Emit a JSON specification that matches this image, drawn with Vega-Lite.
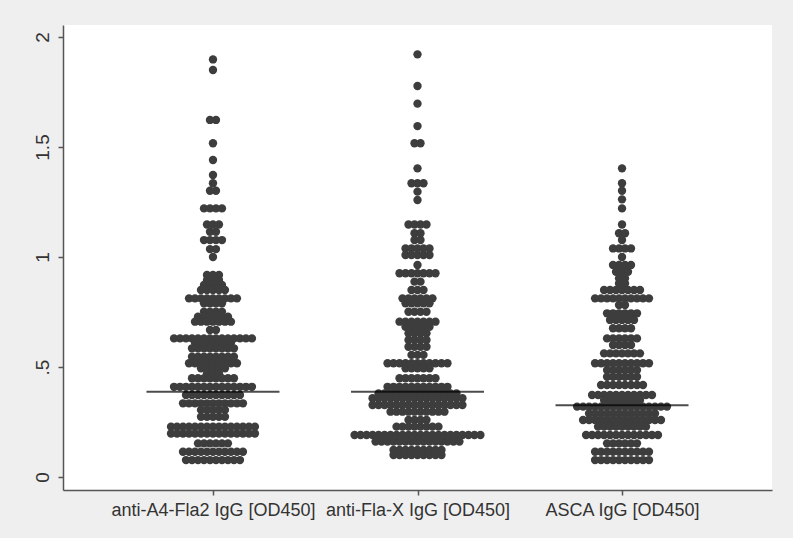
{
"$schema": "https://vega.github.io/schema/vega-lite/v6.json",
"width": 709, "height": 465,
"autosize": {"type": "none"},
"padding": {"left": 63, "top": 25, "right": 21, "bottom": 48},
"background": "#EFEFEF",
"config": {
  "view": {"fill": "white", "stroke": null},
  "font": "Liberation Sans",
  "axis": {"grid": false, "domainColor": "#555555", "domainWidth": 1.5, "tickColor": "#555555", "tickWidth": 1.5, "labelColor": "#333333", "labelFont": "Liberation Sans", "labelFontSize": 18, "labelLimit": 500, "labelOverlap": false, "tickSize": 5, "title": null}
},
"datasets": {
"means": [{"g": 1, "m": 0.388}, {"g": 2, "m": 0.388}, {"g": 3, "m": 0.326}],
"dots": [
{"g":1,"v":1.898},
{"g":1,"v":1.85},
{"g":1,"v":1.623},{"g":1,"v":1.623},
{"g":1,"v":1.517},
{"g":1,"v":1.441},
{"g":1,"v":1.373},
{"g":1,"v":1.335},
{"g":1,"v":1.301},{"g":1,"v":1.301},
{"g":1,"v":1.221},{"g":1,"v":1.221},{"g":1,"v":1.221},{"g":1,"v":1.221},
{"g":1,"v":1.148},{"g":1,"v":1.148},{"g":1,"v":1.148},
{"g":1,"v":1.115},{"g":1,"v":1.115},
{"g":1,"v":1.077},{"g":1,"v":1.077},{"g":1,"v":1.077},{"g":1,"v":1.077},
{"g":1,"v":1.036},{"g":1,"v":1.036},
{"g":1,"v":1.0},
{"g":1,"v":0.918},{"g":1,"v":0.918},{"g":1,"v":0.918},
{"g":1,"v":0.895},{"g":1,"v":0.895},{"g":1,"v":0.895},
{"g":1,"v":0.873},{"g":1,"v":0.873},{"g":1,"v":0.873},{"g":1,"v":0.873},
{"g":1,"v":0.85},{"g":1,"v":0.85},{"g":1,"v":0.85},{"g":1,"v":0.85},{"g":1,"v":0.85},
{"g":1,"v":0.812},{"g":1,"v":0.812},{"g":1,"v":0.812},{"g":1,"v":0.812},{"g":1,"v":0.812},{"g":1,"v":0.812},{"g":1,"v":0.812},{"g":1,"v":0.812},{"g":1,"v":0.812},
{"g":1,"v":0.79},{"g":1,"v":0.79},{"g":1,"v":0.79},{"g":1,"v":0.79},
{"g":1,"v":0.751},{"g":1,"v":0.751},{"g":1,"v":0.751},{"g":1,"v":0.751},
{"g":1,"v":0.729},{"g":1,"v":0.729},{"g":1,"v":0.729},{"g":1,"v":0.729},{"g":1,"v":0.729},{"g":1,"v":0.729},
{"g":1,"v":0.706},{"g":1,"v":0.706},{"g":1,"v":0.706},{"g":1,"v":0.706},{"g":1,"v":0.706},{"g":1,"v":0.706},{"g":1,"v":0.706},
{"g":1,"v":0.668},{"g":1,"v":0.668},
{"g":1,"v":0.63},{"g":1,"v":0.63},{"g":1,"v":0.63},{"g":1,"v":0.63},{"g":1,"v":0.63},{"g":1,"v":0.63},{"g":1,"v":0.63},{"g":1,"v":0.63},{"g":1,"v":0.63},{"g":1,"v":0.63},{"g":1,"v":0.63},{"g":1,"v":0.63},{"g":1,"v":0.63},{"g":1,"v":0.63},
{"g":1,"v":0.61},{"g":1,"v":0.61},{"g":1,"v":0.61},{"g":1,"v":0.61},{"g":1,"v":0.61},{"g":1,"v":0.61},{"g":1,"v":0.61},
{"g":1,"v":0.585},{"g":1,"v":0.585},{"g":1,"v":0.585},{"g":1,"v":0.585},{"g":1,"v":0.585},{"g":1,"v":0.585},{"g":1,"v":0.585},{"g":1,"v":0.585},
{"g":1,"v":0.547},{"g":1,"v":0.547},{"g":1,"v":0.547},{"g":1,"v":0.547},{"g":1,"v":0.547},{"g":1,"v":0.547},{"g":1,"v":0.547},{"g":1,"v":0.547},
{"g":1,"v":0.517},{"g":1,"v":0.517},{"g":1,"v":0.517},{"g":1,"v":0.517},{"g":1,"v":0.517},{"g":1,"v":0.517},{"g":1,"v":0.517},{"g":1,"v":0.517},{"g":1,"v":0.517},
{"g":1,"v":0.494},{"g":1,"v":0.494},{"g":1,"v":0.494},{"g":1,"v":0.494},{"g":1,"v":0.494},
{"g":1,"v":0.471},{"g":1,"v":0.471},{"g":1,"v":0.471},
{"g":1,"v":0.449},{"g":1,"v":0.449},{"g":1,"v":0.449},{"g":1,"v":0.449},{"g":1,"v":0.449},{"g":1,"v":0.449},{"g":1,"v":0.449},{"g":1,"v":0.449},
{"g":1,"v":0.41},{"g":1,"v":0.41},{"g":1,"v":0.41},{"g":1,"v":0.41},{"g":1,"v":0.41},{"g":1,"v":0.41},{"g":1,"v":0.41},{"g":1,"v":0.41},{"g":1,"v":0.41},{"g":1,"v":0.41},{"g":1,"v":0.41},{"g":1,"v":0.41},{"g":1,"v":0.41},{"g":1,"v":0.41},
{"g":1,"v":0.373},{"g":1,"v":0.373},{"g":1,"v":0.373},{"g":1,"v":0.373},{"g":1,"v":0.373},{"g":1,"v":0.373},{"g":1,"v":0.373},{"g":1,"v":0.373},{"g":1,"v":0.373},{"g":1,"v":0.373},
{"g":1,"v":0.335},{"g":1,"v":0.335},{"g":1,"v":0.335},{"g":1,"v":0.335},{"g":1,"v":0.335},{"g":1,"v":0.335},{"g":1,"v":0.335},{"g":1,"v":0.335},{"g":1,"v":0.335},{"g":1,"v":0.335},{"g":1,"v":0.335},
{"g":1,"v":0.305},{"g":1,"v":0.305},{"g":1,"v":0.305},{"g":1,"v":0.305},{"g":1,"v":0.305},
{"g":1,"v":0.274},{"g":1,"v":0.274},{"g":1,"v":0.274},{"g":1,"v":0.274},{"g":1,"v":0.274},
{"g":1,"v":0.229},{"g":1,"v":0.229},{"g":1,"v":0.229},{"g":1,"v":0.229},{"g":1,"v":0.229},{"g":1,"v":0.229},{"g":1,"v":0.229},{"g":1,"v":0.229},{"g":1,"v":0.229},{"g":1,"v":0.229},{"g":1,"v":0.229},{"g":1,"v":0.229},{"g":1,"v":0.229},{"g":1,"v":0.229},{"g":1,"v":0.229},
{"g":1,"v":0.198},{"g":1,"v":0.198},{"g":1,"v":0.198},{"g":1,"v":0.198},{"g":1,"v":0.198},{"g":1,"v":0.198},{"g":1,"v":0.198},{"g":1,"v":0.198},{"g":1,"v":0.198},{"g":1,"v":0.198},{"g":1,"v":0.198},{"g":1,"v":0.198},{"g":1,"v":0.198},{"g":1,"v":0.198},{"g":1,"v":0.198},
{"g":1,"v":0.153},{"g":1,"v":0.153},{"g":1,"v":0.153},{"g":1,"v":0.153},{"g":1,"v":0.153},{"g":1,"v":0.153},
{"g":1,"v":0.115},{"g":1,"v":0.115},{"g":1,"v":0.115},{"g":1,"v":0.115},{"g":1,"v":0.115},{"g":1,"v":0.115},{"g":1,"v":0.115},{"g":1,"v":0.115},{"g":1,"v":0.115},{"g":1,"v":0.115},{"g":1,"v":0.115},
{"g":1,"v":0.077},{"g":1,"v":0.077},{"g":1,"v":0.077},{"g":1,"v":0.077},{"g":1,"v":0.077},{"g":1,"v":0.077},{"g":1,"v":0.077},{"g":1,"v":0.077},{"g":1,"v":0.077},{"g":1,"v":0.077},
{"g":2,"v":1.921},
{"g":2,"v":1.777},
{"g":2,"v":1.697},
{"g":2,"v":1.595},
{"g":2,"v":1.517},{"g":2,"v":1.517},
{"g":2,"v":1.403},
{"g":2,"v":1.335},{"g":2,"v":1.335},{"g":2,"v":1.335},
{"g":2,"v":1.297},
{"g":2,"v":1.259},
{"g":2,"v":1.148},{"g":2,"v":1.148},{"g":2,"v":1.148},{"g":2,"v":1.148},
{"g":2,"v":1.108},{"g":2,"v":1.108},
{"g":2,"v":1.077},{"g":2,"v":1.077},
{"g":2,"v":1.039},{"g":2,"v":1.039},{"g":2,"v":1.039},{"g":2,"v":1.039},{"g":2,"v":1.039},
{"g":2,"v":1.009},{"g":2,"v":1.009},{"g":2,"v":1.009},{"g":2,"v":1.009},{"g":2,"v":1.009},
{"g":2,"v":0.964},
{"g":2,"v":0.926},{"g":2,"v":0.926},{"g":2,"v":0.926},{"g":2,"v":0.926},{"g":2,"v":0.926},{"g":2,"v":0.926},{"g":2,"v":0.926},
{"g":2,"v":0.888},{"g":2,"v":0.888},
{"g":2,"v":0.85},{"g":2,"v":0.85},{"g":2,"v":0.85},
{"g":2,"v":0.812},{"g":2,"v":0.812},{"g":2,"v":0.812},{"g":2,"v":0.812},{"g":2,"v":0.812},{"g":2,"v":0.812},
{"g":2,"v":0.79},{"g":2,"v":0.79},{"g":2,"v":0.79},{"g":2,"v":0.79},{"g":2,"v":0.79},
{"g":2,"v":0.751},{"g":2,"v":0.751},{"g":2,"v":0.751},{"g":2,"v":0.751},
{"g":2,"v":0.706},{"g":2,"v":0.706},{"g":2,"v":0.706},{"g":2,"v":0.706},{"g":2,"v":0.706},{"g":2,"v":0.706},{"g":2,"v":0.706},
{"g":2,"v":0.683},{"g":2,"v":0.683},{"g":2,"v":0.683},{"g":2,"v":0.683},{"g":2,"v":0.683},
{"g":2,"v":0.653},{"g":2,"v":0.653},{"g":2,"v":0.653},{"g":2,"v":0.653},
{"g":2,"v":0.623},{"g":2,"v":0.623},{"g":2,"v":0.623},{"g":2,"v":0.623},
{"g":2,"v":0.592},{"g":2,"v":0.592},{"g":2,"v":0.592},{"g":2,"v":0.592},
{"g":2,"v":0.555},{"g":2,"v":0.555},{"g":2,"v":0.555},
{"g":2,"v":0.517},{"g":2,"v":0.517},{"g":2,"v":0.517},{"g":2,"v":0.517},{"g":2,"v":0.517},{"g":2,"v":0.517},{"g":2,"v":0.517},{"g":2,"v":0.517},{"g":2,"v":0.517},{"g":2,"v":0.517},{"g":2,"v":0.517},
{"g":2,"v":0.494},{"g":2,"v":0.494},{"g":2,"v":0.494},{"g":2,"v":0.494},{"g":2,"v":0.494},
{"g":2,"v":0.449},{"g":2,"v":0.449},{"g":2,"v":0.449},{"g":2,"v":0.449},{"g":2,"v":0.449},{"g":2,"v":0.449},{"g":2,"v":0.449},
{"g":2,"v":0.41},{"g":2,"v":0.41},{"g":2,"v":0.41},{"g":2,"v":0.41},{"g":2,"v":0.41},{"g":2,"v":0.41},{"g":2,"v":0.41},{"g":2,"v":0.41},{"g":2,"v":0.41},{"g":2,"v":0.41},{"g":2,"v":0.41},
{"g":2,"v":0.38},{"g":2,"v":0.38},{"g":2,"v":0.38},{"g":2,"v":0.38},{"g":2,"v":0.38},{"g":2,"v":0.38},{"g":2,"v":0.38},{"g":2,"v":0.38},{"g":2,"v":0.38},{"g":2,"v":0.38},{"g":2,"v":0.38},{"g":2,"v":0.38},{"g":2,"v":0.38},{"g":2,"v":0.38},
{"g":2,"v":0.358},{"g":2,"v":0.358},{"g":2,"v":0.358},{"g":2,"v":0.358},{"g":2,"v":0.358},{"g":2,"v":0.358},{"g":2,"v":0.358},{"g":2,"v":0.358},{"g":2,"v":0.358},{"g":2,"v":0.358},{"g":2,"v":0.358},{"g":2,"v":0.358},{"g":2,"v":0.358},{"g":2,"v":0.358},{"g":2,"v":0.358},{"g":2,"v":0.358},
{"g":2,"v":0.327},{"g":2,"v":0.327},{"g":2,"v":0.327},{"g":2,"v":0.327},{"g":2,"v":0.327},{"g":2,"v":0.327},{"g":2,"v":0.327},{"g":2,"v":0.327},{"g":2,"v":0.327},{"g":2,"v":0.327},{"g":2,"v":0.327},{"g":2,"v":0.327},{"g":2,"v":0.327},{"g":2,"v":0.327},{"g":2,"v":0.327},{"g":2,"v":0.327},
{"g":2,"v":0.297},{"g":2,"v":0.297},{"g":2,"v":0.297},{"g":2,"v":0.297},{"g":2,"v":0.297},{"g":2,"v":0.297},{"g":2,"v":0.297},{"g":2,"v":0.297},{"g":2,"v":0.297},{"g":2,"v":0.297},
{"g":2,"v":0.259},{"g":2,"v":0.259},{"g":2,"v":0.259},{"g":2,"v":0.259},
{"g":2,"v":0.229},{"g":2,"v":0.229},{"g":2,"v":0.229},{"g":2,"v":0.229},{"g":2,"v":0.229},{"g":2,"v":0.229},{"g":2,"v":0.229},{"g":2,"v":0.229},
{"g":2,"v":0.191},{"g":2,"v":0.191},{"g":2,"v":0.191},{"g":2,"v":0.191},{"g":2,"v":0.191},{"g":2,"v":0.191},{"g":2,"v":0.191},{"g":2,"v":0.191},{"g":2,"v":0.191},{"g":2,"v":0.191},{"g":2,"v":0.191},{"g":2,"v":0.191},{"g":2,"v":0.191},{"g":2,"v":0.191},{"g":2,"v":0.191},{"g":2,"v":0.191},{"g":2,"v":0.191},{"g":2,"v":0.191},{"g":2,"v":0.191},{"g":2,"v":0.191},{"g":2,"v":0.191},{"g":2,"v":0.191},
{"g":2,"v":0.161},{"g":2,"v":0.161},{"g":2,"v":0.161},{"g":2,"v":0.161},{"g":2,"v":0.161},{"g":2,"v":0.161},{"g":2,"v":0.161},{"g":2,"v":0.161},{"g":2,"v":0.161},{"g":2,"v":0.161},{"g":2,"v":0.161},{"g":2,"v":0.161},{"g":2,"v":0.161},{"g":2,"v":0.161},{"g":2,"v":0.161},
{"g":2,"v":0.123},{"g":2,"v":0.123},{"g":2,"v":0.123},{"g":2,"v":0.123},{"g":2,"v":0.123},{"g":2,"v":0.123},{"g":2,"v":0.123},{"g":2,"v":0.123},{"g":2,"v":0.123},
{"g":2,"v":0.1},{"g":2,"v":0.1},{"g":2,"v":0.1},{"g":2,"v":0.1},{"g":2,"v":0.1},{"g":2,"v":0.1},{"g":2,"v":0.1},{"g":2,"v":0.1},{"g":2,"v":0.1},
{"g":3,"v":1.403},
{"g":3,"v":1.335},
{"g":3,"v":1.301},
{"g":3,"v":1.262},
{"g":3,"v":1.221},
{"g":3,"v":1.148},
{"g":3,"v":1.108},{"g":3,"v":1.108},
{"g":3,"v":1.077},
{"g":3,"v":1.039},{"g":3,"v":1.039},{"g":3,"v":1.039},{"g":3,"v":1.039},
{"g":3,"v":1.0},
{"g":3,"v":0.964},{"g":3,"v":0.964},{"g":3,"v":0.964},{"g":3,"v":0.964},
{"g":3,"v":0.933},{"g":3,"v":0.933},{"g":3,"v":0.933},
{"g":3,"v":0.903},{"g":3,"v":0.903},
{"g":3,"v":0.88},{"g":3,"v":0.88},
{"g":3,"v":0.85},{"g":3,"v":0.85},{"g":3,"v":0.85},{"g":3,"v":0.85},{"g":3,"v":0.85},{"g":3,"v":0.85},{"g":3,"v":0.85},
{"g":3,"v":0.812},{"g":3,"v":0.812},{"g":3,"v":0.812},{"g":3,"v":0.812},{"g":3,"v":0.812},{"g":3,"v":0.812},{"g":3,"v":0.812},{"g":3,"v":0.812},{"g":3,"v":0.812},{"g":3,"v":0.812},
{"g":3,"v":0.782},{"g":3,"v":0.782},
{"g":3,"v":0.744},{"g":3,"v":0.744},{"g":3,"v":0.744},{"g":3,"v":0.744},{"g":3,"v":0.744},{"g":3,"v":0.744},
{"g":3,"v":0.714},{"g":3,"v":0.714},{"g":3,"v":0.714},{"g":3,"v":0.714},{"g":3,"v":0.714},
{"g":3,"v":0.676},{"g":3,"v":0.676},{"g":3,"v":0.676},{"g":3,"v":0.676},
{"g":3,"v":0.63},{"g":3,"v":0.63},{"g":3,"v":0.63},{"g":3,"v":0.63},{"g":3,"v":0.63},{"g":3,"v":0.63},
{"g":3,"v":0.6},{"g":3,"v":0.6},{"g":3,"v":0.6},{"g":3,"v":0.6},
{"g":3,"v":0.562},{"g":3,"v":0.562},{"g":3,"v":0.562},{"g":3,"v":0.562},{"g":3,"v":0.562},{"g":3,"v":0.562},{"g":3,"v":0.562},
{"g":3,"v":0.517},{"g":3,"v":0.517},{"g":3,"v":0.517},{"g":3,"v":0.517},{"g":3,"v":0.517},{"g":3,"v":0.517},{"g":3,"v":0.517},{"g":3,"v":0.517},{"g":3,"v":0.517},{"g":3,"v":0.517},
{"g":3,"v":0.486},{"g":3,"v":0.486},{"g":3,"v":0.486},{"g":3,"v":0.486},{"g":3,"v":0.486},{"g":3,"v":0.486},
{"g":3,"v":0.456},{"g":3,"v":0.456},{"g":3,"v":0.456},{"g":3,"v":0.456},{"g":3,"v":0.456},{"g":3,"v":0.456},
{"g":3,"v":0.418},{"g":3,"v":0.418},{"g":3,"v":0.418},{"g":3,"v":0.418},{"g":3,"v":0.418},{"g":3,"v":0.418},{"g":3,"v":0.418},{"g":3,"v":0.418},
{"g":3,"v":0.373},{"g":3,"v":0.373},{"g":3,"v":0.373},{"g":3,"v":0.373},{"g":3,"v":0.373},{"g":3,"v":0.373},{"g":3,"v":0.373},{"g":3,"v":0.373},{"g":3,"v":0.373},{"g":3,"v":0.373},{"g":3,"v":0.373},
{"g":3,"v":0.35},{"g":3,"v":0.35},{"g":3,"v":0.35},{"g":3,"v":0.35},{"g":3,"v":0.35},{"g":3,"v":0.35},{"g":3,"v":0.35},
{"g":3,"v":0.32},{"g":3,"v":0.32},{"g":3,"v":0.32},{"g":3,"v":0.32},{"g":3,"v":0.32},{"g":3,"v":0.32},{"g":3,"v":0.32},{"g":3,"v":0.32},{"g":3,"v":0.32},{"g":3,"v":0.32},{"g":3,"v":0.32},{"g":3,"v":0.32},{"g":3,"v":0.32},{"g":3,"v":0.32},{"g":3,"v":0.32},{"g":3,"v":0.32},
{"g":3,"v":0.289},{"g":3,"v":0.289},{"g":3,"v":0.289},{"g":3,"v":0.289},{"g":3,"v":0.289},{"g":3,"v":0.289},{"g":3,"v":0.289},{"g":3,"v":0.289},{"g":3,"v":0.289},{"g":3,"v":0.289},{"g":3,"v":0.289},{"g":3,"v":0.289},
{"g":3,"v":0.259},{"g":3,"v":0.259},{"g":3,"v":0.259},{"g":3,"v":0.259},{"g":3,"v":0.259},{"g":3,"v":0.259},{"g":3,"v":0.259},{"g":3,"v":0.259},{"g":3,"v":0.259},{"g":3,"v":0.259},{"g":3,"v":0.259},{"g":3,"v":0.259},{"g":3,"v":0.259},{"g":3,"v":0.259},
{"g":3,"v":0.229},{"g":3,"v":0.229},{"g":3,"v":0.229},{"g":3,"v":0.229},{"g":3,"v":0.229},{"g":3,"v":0.229},{"g":3,"v":0.229},{"g":3,"v":0.229},{"g":3,"v":0.229},
{"g":3,"v":0.191},{"g":3,"v":0.191},{"g":3,"v":0.191},{"g":3,"v":0.191},{"g":3,"v":0.191},{"g":3,"v":0.191},{"g":3,"v":0.191},{"g":3,"v":0.191},{"g":3,"v":0.191},{"g":3,"v":0.191},{"g":3,"v":0.191},{"g":3,"v":0.191},{"g":3,"v":0.191},
{"g":3,"v":0.153},{"g":3,"v":0.153},{"g":3,"v":0.153},{"g":3,"v":0.153},{"g":3,"v":0.153},{"g":3,"v":0.153},
{"g":3,"v":0.115},{"g":3,"v":0.115},{"g":3,"v":0.115},{"g":3,"v":0.115},{"g":3,"v":0.115},{"g":3,"v":0.115},{"g":3,"v":0.115},{"g":3,"v":0.115},{"g":3,"v":0.115},{"g":3,"v":0.115},
{"g":3,"v":0.077},{"g":3,"v":0.077},{"g":3,"v":0.077},{"g":3,"v":0.077},{"g":3,"v":0.077},{"g":3,"v":0.077},{"g":3,"v":0.077},{"g":3,"v":0.077},{"g":3,"v":0.077},{"g":3,"v":0.077}
]
},
"layer": [
  {
    "data": {"name": "dots"},
    "transform": [
      {"window": [{"op": "row_number", "as": "r"}], "groupby": ["g", "v"]},
      {"joinaggregate": [{"op": "count", "as": "n"}], "groupby": ["g", "v"]},
      {"calculate": "datum.g + (datum.r - (datum.n + 1) / 2) * 0.0293", "as": "xp"}
    ],
    "mark": {"type": "circle", "size": 70, "color": "#3d3d3d", "opacity": 1},
    "encoding": {
      "x": {"field": "xp", "type": "quantitative",
        "scale": {"domain": [0.2667, 3.7333], "nice": false, "zero": false},
        "axis": {"values": [1, 2, 3], "labelPadding": 6, "labelFlush": false,
          "labelExpr": "datum.value == 1 ? 'anti-A4-Fla2 IgG [OD450]' : datum.value == 2 ? 'anti-Fla-X IgG [OD450]' : 'ASCA IgG [OD450]'"}},
      "y": {"field": "v", "type": "quantitative",
        "scale": {"domain": [-0.059, 2.0545], "nice": false, "zero": false},
        "axis": {"values": [0, 0.5, 1, 1.5, 2], "labelAngle": 270, "labelAlign": "center", "labelBaseline": "alphabetic", "labelPadding": 10, "labelFontSize": 19,
          "labelExpr": "datum.value == 0 ? '0' : datum.value == 0.5 ? '.5' : datum.value == 1 ? '1' : datum.value == 1.5 ? '1.5' : '2'"}}
    }
  },
  {
    "data": {"name": "means"},
    "mark": {"type": "tick", "orient": "horizontal", "size": 133, "thickness": 2, "color": "black"},
    "encoding": {
      "x": {"field": "g", "type": "quantitative"},
      "y": {"field": "m", "type": "quantitative"}
    }
  }
]
}
